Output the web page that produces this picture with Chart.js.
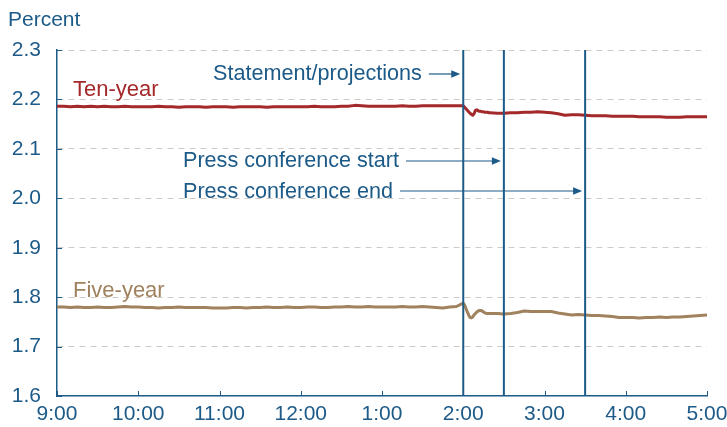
<!DOCTYPE html>
<html><head><meta charset="utf-8">
<script src="https://cdn.jsdelivr.net/npm/chart.js@4"></script>
<style>html,body{margin:0;padding:0;background:#fff;overflow:hidden}</style>
</head><body>
<canvas id="c" width="727" height="427"></canvas>
<script>
// minutes after 9:00 a.m.
const minutes = [
  0,5,10,15,20,25,30,35,40,45,50,55,
  60,65,70,75,80,85,90,95,100,105,110,115,
  120,125,130,135,140,145,150,155,160,165,170,175,
  180,185,190,195,200,205,210,215,220,225,230,235,
  240,245,250,255,260,265,270,275,280,285,290,295,
  300,301,302,303,304,305,306,307,308,309,310,311,312,313,314,315,316,317,318,319,320,
  325,330,335,340,345,350,355,360,365,370,375,380,385,390,395,400,
  405,410,415,420,425,430,435,440,445,450,455,460,465,470,475,480
];
const tenYear = [
  2.186,2.186,2.185,2.186,2.185,2.186,2.185,2.186,2.185,2.185,2.186,2.185,
  2.185,2.185,2.185,2.186,2.185,2.185,2.184,2.185,2.185,2.185,2.184,2.185,
  2.185,2.185,2.184,2.185,2.185,2.185,2.185,2.184,2.185,2.185,2.185,2.185,
  2.185,2.185,2.186,2.185,2.185,2.185,2.186,2.186,2.188,2.187,2.186,2.186,
  2.186,2.186,2.186,2.187,2.186,2.186,2.187,2.187,2.187,2.187,2.187,2.187,
  2.187,2.184,2.181,2.178,2.175,2.172,2.170,2.168,2.171,2.178,2.179,2.177,2.176,2.176,2.175,2.175,2.174,2.174,2.174,2.173,2.173,
  2.172,2.172,2.173,2.173,2.174,2.174,2.175,2.174,2.173,2.171,2.168,2.169,2.169,2.168,2.167,2.167,
  2.167,2.166,2.166,2.166,2.166,2.165,2.165,2.165,2.165,2.164,2.164,2.164,2.165,2.165,2.165,2.165
];
const fiveYear = [
  1.780,1.780,1.779,1.780,1.779,1.779,1.780,1.779,1.779,1.780,1.781,1.780,
  1.780,1.779,1.779,1.778,1.779,1.779,1.780,1.779,1.779,1.779,1.779,1.778,
  1.778,1.778,1.779,1.779,1.778,1.779,1.779,1.780,1.779,1.779,1.780,1.779,
  1.779,1.780,1.780,1.779,1.779,1.780,1.780,1.781,1.780,1.780,1.781,1.780,
  1.780,1.780,1.780,1.781,1.780,1.780,1.781,1.780,1.779,1.778,1.780,1.781,
  1.788,1.784,1.777,1.770,1.764,1.759,1.758,1.760,1.764,1.767,1.770,1.772,1.773,1.773,1.772,1.770,1.768,1.767,1.767,1.767,1.767,
  1.767,1.766,1.767,1.769,1.772,1.771,1.771,1.771,1.771,1.768,1.766,1.764,1.765,1.764,1.763,1.763,
  1.762,1.761,1.759,1.759,1.759,1.758,1.759,1.759,1.760,1.759,1.760,1.760,1.761,1.762,1.763,1.764
];
const xTickValues = [0,60,120,180,240,300,360,420,480];
const xTickLabels = ['9:00','10:00','11:00','12:00','1:00','2:00','3:00','4:00','5:00'];
const yTickValues = [1.6,1.7,1.8,1.9,2.0,2.1,2.2,2.3];
const yTickLabels = ['1.6','1.7','1.8','1.9','2.0','2.1','2.2','2.3'];
const eventMinutes = [300,330,390];
const eventLabels = ['Statement/projections','Press conference start','Press conference end'];
const seriesNames = ['Ten-year','Five-year'];
const unitLabel = 'Percent';

const BLUE = '#1c5a88', RED = '#a3292b', TAN = '#a0825f', GRID = '#cfcbc4';
const FAM = '"Liberation Sans", Arial, sans-serif';

const annot = {
  id: 'annot',
  afterDatasetsDraw(chart) {
    const {ctx, chartArea: ca, scales: {x, y}} = chart;
    ctx.save();
    // inner tick marks
    ctx.strokeStyle = BLUE; ctx.lineWidth = 1;
    xTickValues.forEach(v => { const px = Math.round(x.getPixelForValue(v)) + 0.5;
      ctx.beginPath(); ctx.moveTo(px, ca.bottom); ctx.lineTo(px, ca.bottom - 5); ctx.stroke(); });
    yTickValues.forEach(v => { const py = Math.round(y.getPixelForValue(v)) + 0.5;
      ctx.beginPath(); ctx.moveTo(ca.left, py); ctx.lineTo(ca.left + 5, py); ctx.stroke(); });
    // event lines
    ctx.lineWidth = 2; ctx.strokeStyle = BLUE;
    eventMinutes.forEach(m => { const px = x.getPixelForValue(m);
      ctx.beginPath(); ctx.moveTo(px, ca.top); ctx.lineTo(px, ca.bottom); ctx.stroke(); });
    // texts
    ctx.textBaseline = 'alphabetic'; ctx.textAlign = 'left';
    ctx.fillStyle = BLUE;
    ctx.font = '21px ' + FAM;
    ctx.fillText(unitLabel, 8, 26);
    ctx.font = '21.6px ' + FAM;
    const tpos = [[213, 80, 74], [183, 167, 161], [183, 198, 191]];
    eventLabels.forEach((t, i) => {
      const [tx, ty, ay] = tpos[i];
      ctx.fillStyle = BLUE;
      ctx.fillText(t, tx, ty);
      const w = ctx.measureText(t).width;
      const x0 = tx + w + 7, x1 = x.getPixelForValue(eventMinutes[i]) - 3;
      ctx.lineWidth = 1.2; ctx.strokeStyle = BLUE;
      ctx.beginPath(); ctx.moveTo(x0, ay); ctx.lineTo(x1 - 8, ay); ctx.stroke();
      ctx.beginPath(); ctx.moveTo(x1, ay); ctx.lineTo(x1 - 9, ay - 3.8); ctx.lineTo(x1 - 9, ay + 3.8); ctx.closePath(); ctx.fill();
    });
    ctx.font = '22px ' + FAM;
    ctx.fillStyle = RED; ctx.fillText(seriesNames[0], 73, 96);
    ctx.fillStyle = TAN; ctx.fillText(seriesNames[1], 73, 297);
    ctx.restore();
  }
};

new Chart(document.getElementById('c'), {
  type: 'line',
  data: {
    datasets: [
      { label: seriesNames[0], data: minutes.map((m, i) => ({x: m, y: tenYear[i]})), borderColor: RED, borderWidth: 3, pointRadius: 0, tension: 0, borderJoinStyle: 'round', borderCapStyle: 'round' },
      { label: seriesNames[1], data: minutes.map((m, i) => ({x: m, y: fiveYear[i]})), borderColor: TAN, borderWidth: 3, pointRadius: 0, tension: 0, borderJoinStyle: 'round', borderCapStyle: 'round' }
    ]
  },
  options: {
    responsive: false, animation: false, devicePixelRatio: 1,
    layout: { padding: { top: 50, right: 20, bottom: 0, left: 0 } },
    plugins: { legend: { display: false }, tooltip: { enabled: false } },
    scales: {
      x: {
        type: 'linear', min: 0, max: 480,
        afterBuildTicks: s => { s.ticks = xTickValues.map(v => ({value: v})); },
        afterFit: s => { s.height = 31; s.paddingLeft = 0; s.paddingRight = 0; },
        ticks: { callback: (v) => xTickLabels[xTickValues.indexOf(v)], color: BLUE, font: { family: FAM, size: 21 }, padding: 6, maxRotation: 0, autoSkip: false },
        grid: { display: false, drawTicks: false },
        border: { display: true, color: BLUE, width: 1.5 }
      },
      y: {
        min: 1.6, max: 2.3,
        afterBuildTicks: s => { s.ticks = yTickValues.map(v => ({value: v})); },
        afterFit: s => { s.width = 57; },
        ticks: { callback: (v) => yTickLabels[yTickValues.indexOf(v)], color: BLUE, font: { family: FAM, size: 21 }, padding: 16 },
        grid: { drawTicks: false, color: c => (c.tick && c.tick.value === 1.6) ? 'rgba(0,0,0,0)' : GRID, lineWidth: 1 },
        border: { display: true, color: BLUE, width: 1.5, dash: [6, 5] }
      }
    }
  },
  plugins: [annot]
});
</script>
</body></html>
